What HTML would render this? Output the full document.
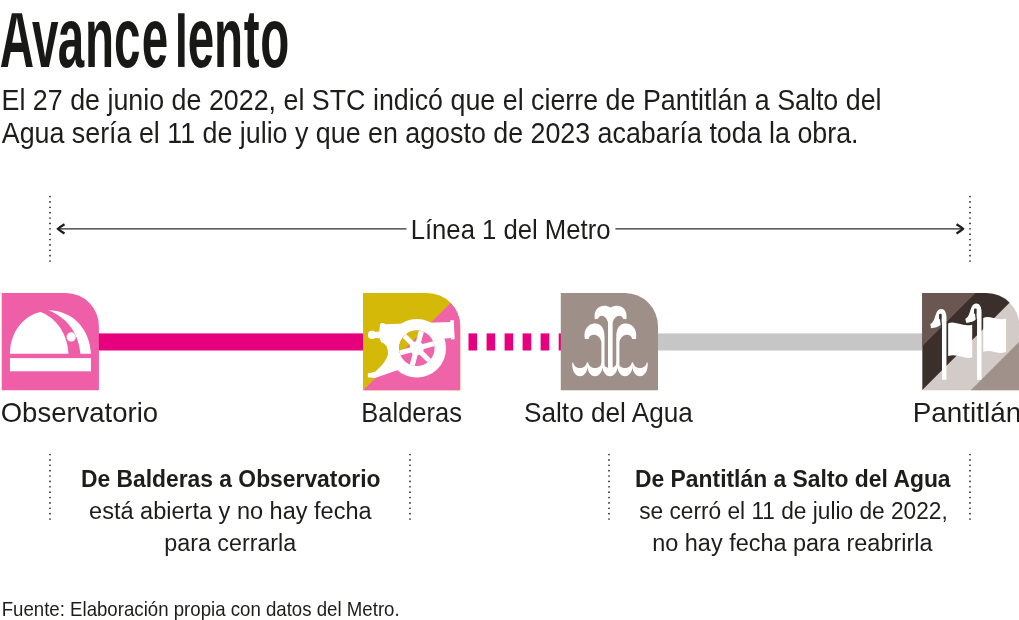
<!DOCTYPE html>
<html lang="es">
<head>
<meta charset="utf-8">
<title>Avance lento</title>
<style>
html,body{margin:0;padding:0;background:#fff;}
body{width:1019px;height:620px;overflow:hidden;}
svg{display:block;}
text{font-family:"Liberation Sans",sans-serif;fill:#1d1d1b;}
.title{font-weight:bold;font-size:85.6px;fill:#181817;}
.sub{font-size:28.5px;}
.lab{font-size:27.5px;}
.note{font-size:23.5px;}
.noteb{font-size:23.5px;font-weight:bold;}
.src{font-size:17.5px;}
.dot{stroke:#1d1d1b;stroke-width:1.7;stroke-dasharray:0 5.375;stroke-linecap:round;fill:none;}
.ln{stroke:#2b2b2a;stroke-width:1.3;fill:none;}
.ah{stroke:#1d1d1b;stroke-width:2.3;fill:none;stroke-linejoin:miter;}
</style>
</head>
<body>
<svg width="1019" height="620" viewBox="0 0 1019 620">
<rect width="1019" height="620" fill="#fff"/>

<!-- heading -->
<text class="title" clip-path="url(#capclip)" transform="translate(0,66.6) scale(0.555,1)" x="-0.4 57.6 104.1 153.0 205.2 255.4 298.9 315.1 338.2 385.8 439.1 468.9" y="0">Avance lento</text>
<text class="sub" x="1.55" y="110" textLength="880.00" lengthAdjust="spacingAndGlyphs" style="font-size:29.6px">El 27 de junio de 2022, el STC indicó que el cierre de Pantitlán a Salto del</text>
<text class="sub" x="1.80" y="143" textLength="856.70" lengthAdjust="spacingAndGlyphs" style="font-size:29.6px">Agua sería el 11 de julio y que en agosto de 2023 acabaría toda la obra.</text>

<!-- top dimension -->
<line class="dot" x1="50" y1="196.5" x2="50" y2="262"/>
<line class="dot" x1="970" y1="196.5" x2="970" y2="262"/>
<line class="ln" x1="58" y1="228.8" x2="406.5" y2="228.8"/>
<line class="ln" x1="615.4" y1="228.8" x2="963" y2="228.8"/>
<path class="ah" d="M64.5 224.3 Q60 227 58 228.8 Q60 230.6 64.5 233.4"/>
<path class="ah" d="M956.5 224.3 Q961 227 963 228.8 Q961 230.6 956.5 233.4"/>
<text class="lab" x="410.70" y="239" textLength="199.79" lengthAdjust="spacingAndGlyphs" style="font-size:27.8px">Línea 1 del Metro</text>

<!-- track -->
<rect x="98" y="333.4" width="266" height="17.1" fill="#e6007e"/>
<g fill="#e6007e">
<rect x="468.5" y="333.4" width="8.6" height="17.1"/>
<rect x="486.6" y="333.4" width="8.6" height="17.1"/>
<rect x="504.6" y="333.4" width="8.6" height="17.1"/>
<rect x="522.6" y="333.4" width="8.7" height="17.1"/>
<rect x="540.6" y="333.4" width="8.7" height="17.1"/>
<rect x="558.7" y="333.4" width="4" height="17.1"/>
</g>
<rect x="657" y="333.4" width="266" height="17.1" fill="#c6c6c6"/>

<defs>
<clipPath id="capclip"><rect x="-10" y="-53.4" width="600" height="80"/></clipPath>
<clipPath id="tile"><path d="M0 0 H64.2 A33 33 0 0 1 97.2 33 V97.1 H0 Z"/></clipPath>
</defs>

<!-- Observatorio -->
<g transform="translate(1.7,293.1)">
<path d="M0 0 H64.2 A33 33 0 0 1 97.2 33 V97.1 H0 Z" fill="#ee5fa7"/>
</g>
<g transform="translate(0,288) scale(0.17105)" fill="#fff">
<path d="M58 385 C58 255 140 160 238 140 C330 175 395 270 400 385 Z"/>
<path d="M282 128 C440 135 525 250 532 385 L470 385 C462 275 405 180 282 128 Z"/>
<rect x="58" y="410" width="474" height="77"/>
<circle cx="416" cy="286" r="27"/>
</g>

<!-- Balderas -->
<g transform="translate(363,293.1)" clip-path="url(#tile)">
<rect x="-1" y="-1" width="99" height="99" fill="#d5b908"/>
<path d="M98 -0.5 V98 H-0.5 Z" fill="#ef64a8"/>
</g>
<g transform="translate(363,312) scale(0.12092)">
<g fill="#fff">
<circle cx="75" cy="190" r="34"/>
<path d="M100 166 L135 162 L140 105 L152 92 L175 92 L182 102 L720 82 L722 68 L750 66 L758 225 L730 228 L728 214 L500 235 L215 255 L150 250 L138 217 L100 214 Z"/>
<path d="M150 245 C200 270 225 320 200 370 C180 420 130 470 100 495 L40 508 L40 540 L100 546 L300 475 L300 245 Z"/>
<circle cx="445" cy="300" r="242"/>
</g>
<clipPath id="wh"><circle cx="445" cy="300" r="147"/></clipPath>
<g clip-path="url(#wh)">
<rect x="280" y="140" width="330" height="330" fill="#ef64a8"/>
<path d="M280 140 H512 L280 372 Z" fill="#d5b908"/>
<g stroke="#fff" stroke-width="42">
<line x1="445" y1="300" x2="565.2" y2="420.2"/>
<line x1="445" y1="300" x2="401.0" y2="464.2"/>
<line x1="445" y1="300" x2="280.8" y2="344.0"/>
<line x1="445" y1="300" x2="324.8" y2="179.8"/>
<line x1="445" y1="300" x2="489.0" y2="135.8"/>
<line x1="445" y1="300" x2="609.2" y2="256.0"/>
</g>
<circle cx="445" cy="300" r="58" fill="#fff"/>
</g>
</g>

<!-- Salto del Agua -->
<g transform="translate(560.8,293.1)">
<path d="M0 0 H64.2 A33 33 0 0 1 97.2 33 V97.1 H0 Z" fill="#9f8f89"/>
</g>
<g transform="translate(561,302) scale(0.12092)" fill="#fff">
<path d="M280 142 C262 50 340 8 410 46 C480 8 558 50 540 142 L514 138 C500 100 445 105 427 170 L427 545 L389 545 L389 170 C371 105 320 100 306 138 Z"/>
<path d="M197 305 C180 215 240 170 292 178 C340 185 360 230 360 290 L360 545 L334 545 L334 335 C324 262 240 252 228 305 Z"/>
<path d="M620 305 C637 215 577 170 525 178 C477 185 457 230 457 290 L457 545 L483 545 L483 335 C493 262 577 252 589 305 Z"/>
<path d="M93 500 L100 500 C113 562 201 562 214 500 L221 500 C231 652 83 652 93 500 Z"/>
<path d="M217 500 L224 500 C237 562 325 562 338 500 L345 500 C355 652 207 652 217 500 Z"/>
<path d="M341 500 L348 500 C361 562 449 562 462 500 L469 500 C479 652 331 652 341 500 Z"/>
<path d="M465 500 L472 500 C485 562 573 562 586 500 L593 500 C603 652 455 652 465 500 Z"/>
<path d="M589 500 L596 500 C609 562 697 562 710 500 L717 500 C727 652 579 652 589 500 Z"/>
</g>

<!-- Pantitlan -->
<g transform="translate(922.2,293.1)" clip-path="url(#tile)">
<rect x="-1" y="-1" width="99" height="99" fill="#d3cbc8"/>
<path d="M-1 -1 H98 L-1 98 Z" fill="#3b2f2c"/>
<path d="M-1 -1 H54.2 L-1 54.2 Z" fill="#6b5751"/>
<path d="M100 45.7 V98 H47.7 Z" fill="#a1918b"/>
</g>
<g transform="translate(919,295) scale(0.12092)">
<g fill="#fff">
<path d="M190 700 L190 235 C172 262 130 272 100 274 L93 240 C140 228 128 118 182 116 C226 116 230 170 227 222 L227 700 Z"/>
<path d="M480 700 L480 192 C462 218 420 228 390 230 L383 196 C430 184 418 73 472 71 C516 71 520 125 517 177 L517 700 Z"/>
<path d="M241 236 C290 205 350 265 440 245 L440 515 C380 540 320 480 241 505 Z"/>
<path d="M531 190 C580 165 640 215 720 195 L720 470 C660 500 600 445 531 470 Z"/>
</g>
<g fill="#3b2f2c">
<rect x="166" y="156" width="22" height="46" rx="9"/>
<rect x="455" y="111" width="22" height="46" rx="9"/>
<path d="M173 196 L186 196 L191 285 L184 285 Z"/>
<path d="M462 151 L475 151 L481 240 L474 240 Z"/>
</g>
</g>

<!-- labels -->
<text class="lab" x="0.75" y="422" textLength="157.30" lengthAdjust="spacingAndGlyphs" style="font-size:27.6px">Observatorio</text>
<text class="lab" x="361.33" y="422" textLength="100.57" lengthAdjust="spacingAndGlyphs" style="font-size:27.6px">Balderas</text>
<text class="lab" x="524.05" y="422" textLength="168.74" lengthAdjust="spacingAndGlyphs" style="font-size:27.6px">Salto del Agua</text>
<text class="lab" x="912.7" y="422" textLength="108.5" lengthAdjust="spacingAndGlyphs" style="font-size:27.6px">Pantitlán</text>

<!-- notes -->
<line class="dot" x1="50" y1="454.5" x2="50" y2="520"/>
<line class="dot" x1="410" y1="454.5" x2="410" y2="520"/>
<line class="dot" x1="609" y1="454.5" x2="609" y2="520"/>
<line class="dot" x1="970" y1="454.5" x2="970" y2="520"/>
<text class="noteb" x="80.90" y="487" textLength="299.69" lengthAdjust="spacingAndGlyphs" style="font-size:23.3px">De Balderas a Observatorio</text>
<text class="note" x="89.11" y="519" textLength="282.49" lengthAdjust="spacingAndGlyphs" style="font-size:23.3px">está abierta y no hay fecha</text>
<text class="note" x="164.32" y="551" textLength="131.89" lengthAdjust="spacingAndGlyphs" style="font-size:23.3px">para cerrarla</text>
<text class="noteb" x="635.01" y="487" textLength="315.59" lengthAdjust="spacingAndGlyphs" style="font-size:23.3px">De Pantitlán a Salto del Agua</text>
<text class="note" x="639.15" y="519" textLength="308.65" lengthAdjust="spacingAndGlyphs" style="font-size:23.3px">se cerró el 11 de julio de 2022,</text>
<text class="note" x="652.22" y="551" textLength="280.29" lengthAdjust="spacingAndGlyphs" style="font-size:23.3px">no hay fecha para reabrirla</text>

<text class="src" x="1.65" y="616" textLength="398.01" lengthAdjust="spacingAndGlyphs" style="font-size:19.8px">Fuente: Elaboración propia con datos del Metro.</text>
</svg>
</body>
</html>
